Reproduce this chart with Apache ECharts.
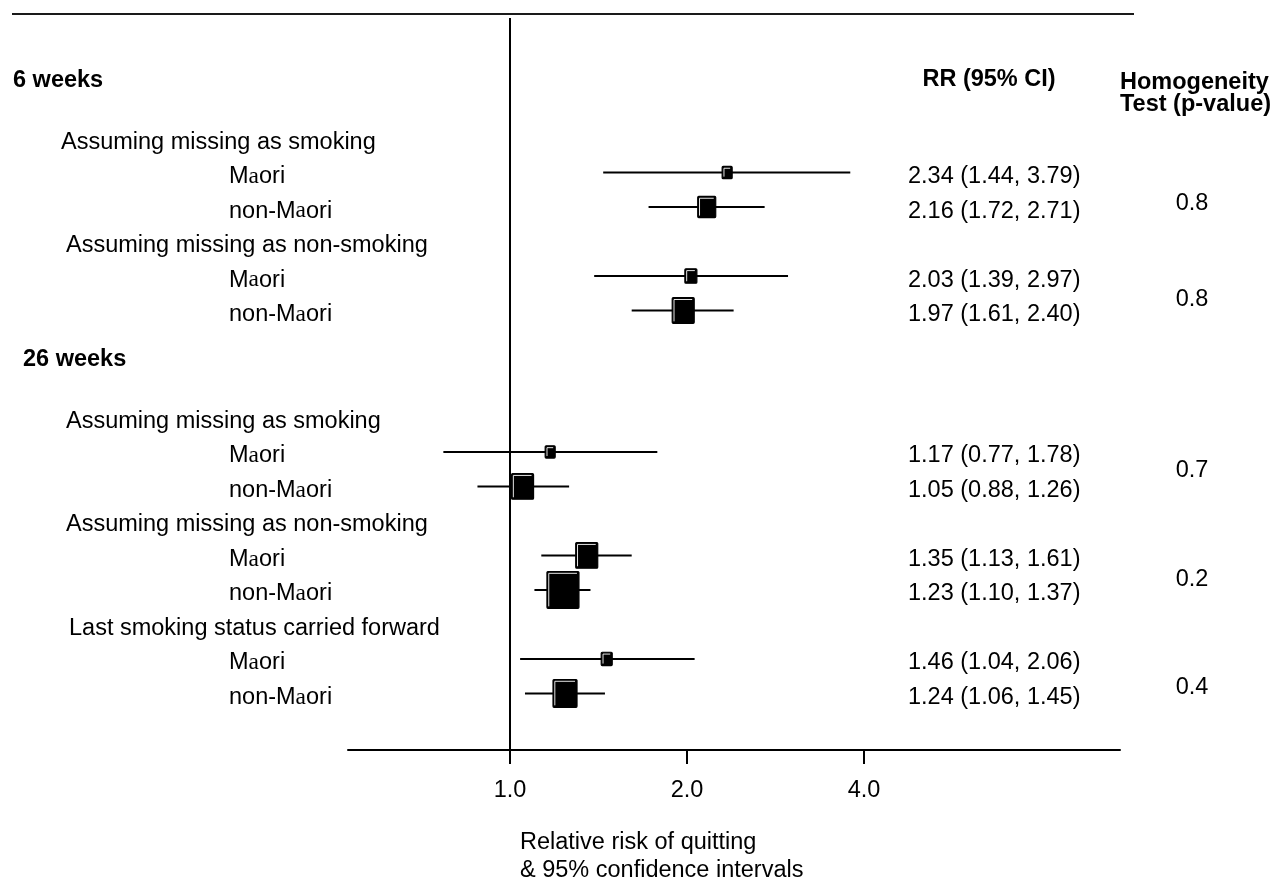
<!DOCTYPE html>
<html>
<head>
<meta charset="utf-8">
<script src="https://cdn.jsdelivr.net/npm/echarts@6/dist/echarts.min.js"></script>
<style>
  html, body { margin: 0; padding: 0; background: #fff; }
  #chart { width: 1276px; height: 884px; }
</style>
</head>
<body>
<div id="chart"></div>
<script>
// ---------------- DATA ----------------
const groups = ['6 weeks', '26 weeks'];
const methods = [
  'Assuming missing as smoking',
  'Assuming missing as non-smoking',
  'Last smoking status carried forward'
];
const ethnicities = ['Maori', 'non-Maori'];
// each comparison block: its time point and its missing-data method
const blockGroup = [0, 0, 1, 1, 1];
const blockMethod = [0, 1, 0, 1, 2];
// one entry per (block, ethnicity): Maori, non-Maori, Maori, non-Maori, ...
const rr     = [2.34, 2.16, 2.03, 1.97, 1.17, 1.05, 1.35, 1.23, 1.46, 1.24];
const ciLow  = [1.44, 1.72, 1.39, 1.61, 0.77, 0.88, 1.13, 1.10, 1.04, 1.06];
const ciHigh = [3.79, 2.71, 2.97, 2.40, 1.78, 1.26, 1.61, 1.37, 2.06, 1.45];
const weight = [10, 18, 12, 22, 10, 22, 22, 32, 11, 24];
const pValue = ['0.8', '0.8', '0.7', '0.2', '0.4'];
const xTicks = [1, 2, 4];
const axisTitle = ['Relative risk of quitting', '& 95% confidence intervals'];
const colHeaderRR = 'RR (95% CI)';
const colHeaderP = ['Homogeneity', 'Test (p-value)'];

// ---------------- LAYOUT ----------------
const FONT = "'Liberation Sans', Arial, Helvetica, sans-serif";
const SERIF = "'Liberation Serif', 'Times New Roman', serif";
const FS = 23.5;
const GRID = { left: 348, right: 156, top: 18, bottom: 134 };
const ROW = 1, FIRST = 1.80, AFTER_HEADER = 1.68, BEFORE_HEADER = 1.42, Y_MAX = 21.22;
const headerIndent = [13, 23];
const methodIndent = [61, 66, 66, 66, 69];
const itemIndent = 229;
const TEXT_DY = 4;
const pDy = [14, 6, 1, 7, 11];
const RR_X = 908, P_X = 1192;

// build rows from structure
const rows = [];
let y = FIRST, prevGroup = -1;
blockGroup.forEach((g, b) => {
  if (g !== prevGroup) {
    if (prevGroup !== -1) y += BEFORE_HEADER;
    rows.push({ type: 'header', text: groups[g], y: y, g: g });
    y += AFTER_HEADER;
    prevGroup = g;
  } else {
    y += ROW;
  }
  rows.push({ type: 'method', text: methods[blockMethod[b]], y: y, b: b });
  ethnicities.forEach((e, k) => {
    y += ROW;
    rows.push({ type: 'item', text: e, y: y, i: b * 2 + k });
  });
});
const itemY = rows.filter(r => r.type === 'item').map(r => r.y);

const forestData = rr.map((v, i) => [v, itemY[i], ciLow[i], ciHigh[i], weight[i]]);
const rrTextData = rr.map((v, i) => [1, itemY[i], i]);
const pData = pValue.map((p, b) => [1, (itemY[2 * b] + itemY[2 * b + 1]) / 2, b]);
const labelData = rows.map((r, k) => [1, r.y, k]);

function richName(t) {
  return t.replace('Maori', 'M{a|a}ori');
}

const chart = echarts.init(document.getElementById('chart'), null, { renderer: 'canvas' });

const option = {
  backgroundColor: '#fff',
  animation: false,
  grid: GRID,
  xAxis: {
    type: 'log',
    logBase: 2,
    min: 0.53,
    max: 10.9,
    axisLine: { onZero: false, lineStyle: { color: '#000', width: 2 } },
    axisTick: { show: true, length: 14, customValues: xTicks, lineStyle: { color: '#000', width: 2 } },
    axisLabel: {
      customValues: xTicks,
      margin: 29,
      color: '#000',
      fontFamily: FONT,
      fontSize: FS,
      formatter: v => Number(v).toFixed(1)
    },
    splitLine: { show: false },
    minorTick: { show: false },
    minorSplitLine: { show: false }
  },
  yAxis: {
    type: 'value',
    inverse: true,
    min: 0,
    max: Y_MAX,
    show: false,
    splitLine: { show: false }
  },
  graphic: [
    { type: 'line', shape: { x1: 12, y1: 14, x2: 1134, y2: 14 }, style: { stroke: '#1a1a1a', lineWidth: 2 } },
    { type: 'text', x: 989, y: 80, style: { text: colHeaderRR, fill: '#000', font: 'bold ' + FS + 'px ' + FONT, align: 'center', verticalAlign: 'middle' } },
    { type: 'text', x: 1120, y: 83, style: { text: colHeaderP[0], fill: '#000', font: 'bold ' + FS + 'px ' + FONT, align: 'left', verticalAlign: 'middle' } },
    { type: 'text', x: 1120, y: 105, style: { text: colHeaderP[1], fill: '#000', font: 'bold ' + FS + 'px ' + FONT, align: 'left', verticalAlign: 'middle' } },
    { type: 'text', x: 520, y: 843, style: { text: axisTitle[0], fill: '#000', font: FS + 'px ' + FONT, align: 'left', verticalAlign: 'middle' } },
    { type: 'text', x: 520, y: 871, style: { text: axisTitle[1], fill: '#000', font: FS + 'px ' + FONT, align: 'left', verticalAlign: 'middle' } }
  ],
  series: [
    {
      type: 'custom',
      name: 'forest',
      coordinateSystem: 'cartesian2d',
      clip: false,
      silent: true,
      data: forestData,
      encode: { x: 0, y: 1 },
      renderItem: function (params, api) {
        const yv = api.value(1);
        const c = api.coord([api.value(0), yv]);
        const l = api.coord([api.value(2), yv]);
        const h = api.coord([api.value(3), yv]);
        const w = api.value(4);
        const hh = w * 1.12 + 1;
        const x0 = c[0] - w / 2, y0 = c[1] - hh / 2;
        return {
          type: 'group',
          children: [
            { type: 'line', shape: { x1: l[0], y1: l[1], x2: h[0], y2: h[1] }, style: { stroke: '#000', lineWidth: 2 } },
            { type: 'rect', shape: { x: x0, y: y0, width: w, height: hh, r: 1 }, style: { fill: '#000', stroke: '#000', lineWidth: 1.2 } },
            { type: 'polyline', shape: { points: [[x0 + 1.8, y0 + hh - 2], [x0 + 1.8, y0 + 1.8], [x0 + w - 2, y0 + 1.8]] }, style: { stroke: '#fff', lineWidth: 0.9, fill: null } }
          ]
        };
      },
      markLine: {
        silent: true,
        symbol: ['none', 'none'],
        label: { show: false },
        lineStyle: { color: '#000', width: 2, type: 'solid' },
        data: [{ xAxis: 1 }]
      }
    },
    {
      type: 'custom',
      name: 'labels',
      coordinateSystem: 'cartesian2d',
      clip: false,
      silent: true,
      data: labelData,
      encode: { x: 0, y: 1 },
      renderItem: function (params, api) {
        const r = rows[api.value(2)];
        const p = api.coord([1, api.value(1)]);
        let x, txt = r.text, bold = false, dy = TEXT_DY;
        if (r.type === 'header') { x = headerIndent[r.g]; bold = true; dy = 0; }
        else if (r.type === 'method') { x = methodIndent[r.b]; }
        else { x = itemIndent; txt = richName(r.text); }
        return {
          type: 'text',
          x: x,
          y: p[1] + dy,
          style: {
            text: txt,
            fill: '#000',
            fontFamily: FONT,
            fontSize: FS,
            fontWeight: bold ? 'bold' : 'normal',
            align: 'left',
            verticalAlign: 'middle',
            rich: { a: { fontFamily: SERIF, fontSize: FS, fill: '#000' } }
          }
        };
      }
    },
    {
      type: 'custom',
      name: 'rrText',
      coordinateSystem: 'cartesian2d',
      clip: false,
      silent: true,
      data: rrTextData,
      encode: { x: 0, y: 1 },
      renderItem: function (params, api) {
        const i = api.value(2);
        const p = api.coord([1, api.value(1)]);
        return {
          type: 'text',
          x: RR_X,
          y: p[1] + TEXT_DY,
          style: {
            text: rr[i].toFixed(2) + ' (' + ciLow[i].toFixed(2) + ', ' + ciHigh[i].toFixed(2) + ')',
            fill: '#000', fontFamily: FONT, fontSize: FS,
            align: 'left', verticalAlign: 'middle'
          }
        };
      }
    },
    {
      type: 'custom',
      name: 'pText',
      coordinateSystem: 'cartesian2d',
      clip: false,
      silent: true,
      data: pData,
      encode: { x: 0, y: 1 },
      renderItem: function (params, api) {
        const b = api.value(2);
        const p = api.coord([1, api.value(1)]);
        return {
          type: 'text',
          x: P_X,
          y: p[1] + pDy[b],
          style: {
            text: pValue[b],
            fill: '#000', fontFamily: FONT, fontSize: FS,
            align: 'center', verticalAlign: 'middle'
          }
        };
      }
    }
  ]
};
chart.setOption(option);
</script>
</body>
</html>
